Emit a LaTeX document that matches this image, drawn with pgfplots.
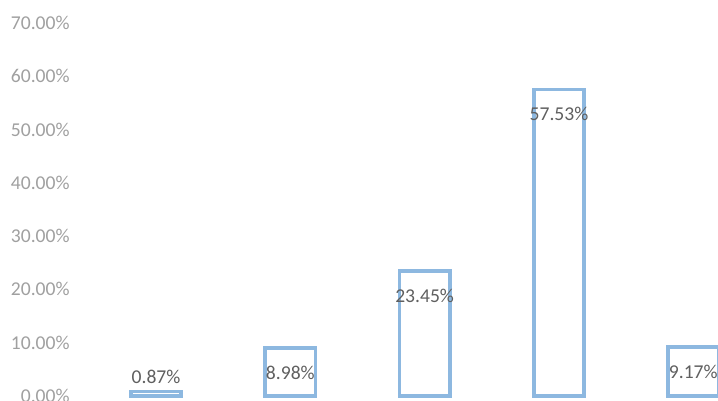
\documentclass[border=0pt]{standalone}
\usepackage{pgfplots}
\pgfplotsset{compat=1.18}
\usepackage{pgfplotstable}
\usepackage{fontspec}
\setmainfont{Carlito}
\definecolor{barblue}{RGB}{141,184,224}
\definecolor{ticklab}{RGB}{160,160,160}
\definecolor{datalab}{RGB}{95,95,95}

\pgfplotstableread{
x y s
0 0.87 7.3
1 8.98 -12.3
2 23.45 -12.3
3 57.53 -12.3
4 9.17 -12.3
}\datatable

\begin{document}
\begin{tikzpicture}
\useasboundingbox (0,0) rectangle (359pt,200.5pt);
\clip (0,0) rectangle (359pt,200.5pt);
\begin{axis}[
  at={(40pt,0pt)}, anchor=south west,
  scale only axis, width=319pt, height=200.5pt,
  xmin=-0.566, xmax=4.184, ymin=-0.94, ymax=74.3,
  axis line style={draw=none}, tick style={draw=none},
  xtick=\empty, ytick={0,10,20,30,40,50,60,70},
  /pgf/number format/assume math mode=true,
  yticklabel={\pgfmathprintnumber[fixed,fixed zerofill,precision=2]{\tick}\%},
  yticklabel style={font=\fontsize{9.8}{11}\selectfont, text=ticklab, inner sep=0pt, anchor=east, xshift=-5pt},
  ybar, bar width=0.375,
]
\addplot[draw=barblue, line width=1.75pt, fill=none,
  nodes near coords={\pgfmathprintnumber[fixed,fixed zerofill,precision=2]{\pgfplotspointmeta}\%},
  point meta=explicit,
  visualization depends on={\thisrow{s} \as \sh},
  every node near coord/.append style={anchor=center, yshift=\sh pt,
    font=\fontsize{9.8}{11}\selectfont, text=datalab, inner sep=0pt}]
  table[x=x, y=y, meta=y] {\datatable};
\end{axis}
\end{tikzpicture}
\end{document}
